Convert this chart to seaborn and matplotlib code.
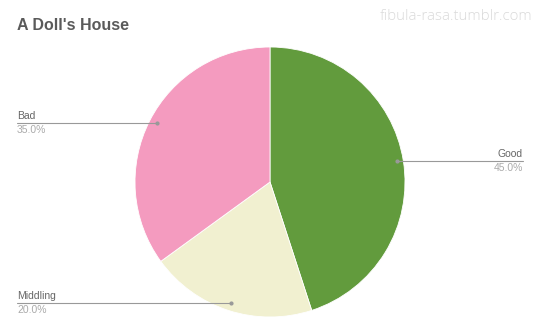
import matplotlib
matplotlib.use("Agg")
import matplotlib.pyplot as plt
import seaborn as sns

labels = ["Good", "Middling", "Bad"]
values = [45.0, 20.0, 35.0]
colors = ["#629b3d", "#f1f0d0", "#f49bbf"]

sns.set_theme(style="white")
plt.rcParams['font.family'] = ['Liberation Sans', 'DejaVu Sans']

W, H = 540, 334
fig = plt.figure(figsize=(W / 100, H / 100), dpi=100)
ax = fig.add_axes([0, 0, 1, 1])
ax.set_xlim(0, W)
ax.set_ylim(0, H)

def py(y):
    return H - y

ax.pie(values, colors=colors, startangle=90, counterclock=False,
       center=(270, py(182)), radius=135, frame=True,
       wedgeprops=dict(linewidth=0.6, edgecolor="white"))
ax.set_xlim(0, W)
ax.set_ylim(0, H)
ax.set_aspect("auto")
ax.axis("off")

fig.text(17 / W, 1 - 25 / H, "A Doll's House", fontsize=11.5, fontweight="bold",
         color="#5a5a5a", va="center", ha="left")
fig.text(532 / W, 1 - 16 / H, "fibula-rasa.tumblr.com", fontsize=10.8,
         color="#dadada", va="center", ha="right",
         family=["Open Sans", "DejaVu Sans"], fontweight="light")

# label annotations: (label_index, text x, line y, line end x, align)
ann = [
    (2, 17, 123, 157, "left"),
    (0, 523, 161, 397, "right"),
    (1, 17, 303, 231, "left"),
]
for i, tx, ly, ex, al in ann:
    x0, x1 = (tx, ex) if al == "left" else (ex, tx)
    ax.plot([x0, x1], [py(ly), py(ly)], color="#999999", lw=0.8)
    ax.plot([ex], [py(ly)], marker="o", ms=2, color="#999999")
    ax.text(tx, py(ly - 2), labels[i], fontsize=7.5, color="#666666",
            ha=al, va="bottom")
    ax.text(tx, py(ly + 2), f"{values[i]:.1f}%", fontsize=7.5, color="#aaaaaa",
            ha=al, va="top")

fig.savefig("out.png", dpi=100)
